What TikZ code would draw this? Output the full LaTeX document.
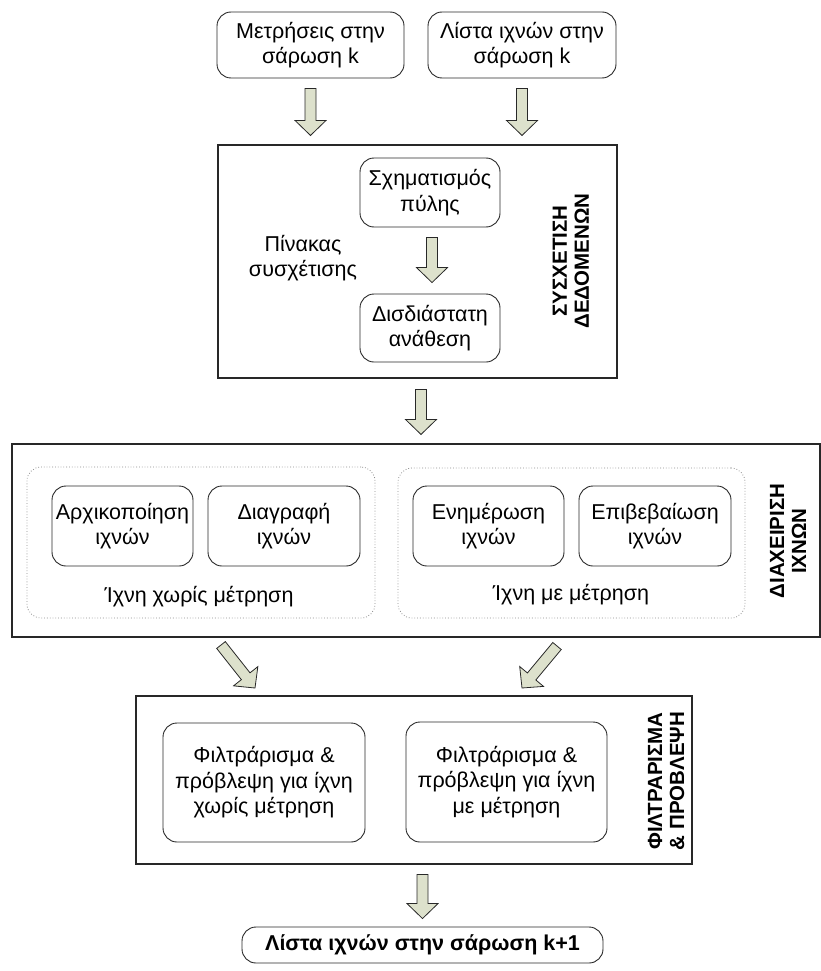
\documentclass[tikz,border=0pt]{standalone}
\usepackage{fontspec}
\setmainfont{Liberation Sans}
\usetikzlibrary{calc}

\definecolor{arrfill}{RGB}{221,225,204}
\definecolor{edgecol}{RGB}{40,40,40}
\definecolor{dotcol}{RGB}{140,140,140}

\newcommand\mainsz{\fontsize{21.5}{25.5}\selectfont}
\newcommand\titlesz{\bfseries\fontsize{20.5}{22}\selectfont}

% hollow block arrow from #1 to #2
\newcommand\blockarrow[2]{%
  \draw[blockarr] let \p1=(#1), \p2=(#2),
    \n1={atan2(\y2-\y1,\x2-\x1)}, \n2={veclen(\x2-\x1,\y2-\y1)} in
    ($(\p1)+({\n1+90}:5.5)$)
    -- ($(\p1)+(\n1:{\n2-15})+({\n1+90}:5.5)$)
    -- ($(\p1)+(\n1:{\n2-15})+({\n1+90}:15.5)$)
    -- (\p2)
    -- ($(\p1)+(\n1:{\n2-15})+({\n1-90}:15.5)$)
    -- ($(\p1)+(\n1:{\n2-15})+({\n1-90}:5.5)$)
    -- ($(\p1)+({\n1-90}:5.5)$) -- cycle;}

\tikzset{
  stage/.style={draw=edgecol, line width=1.1pt, rectangle, inner sep=0pt},
  proc/.style={draw=edgecol, line width=0.9pt, rounded corners=14pt,
    align=center, inner sep=0pt, font=\mainsz},
  group/.style={draw=dotcol, dotted, line width=0.8pt, rounded corners=14pt, inner sep=0pt},
  caption/.style={align=center, font=\mainsz, inner sep=0pt},
  vtitle/.style={rotate=90, align=center, font=\titlesz, inner sep=0pt},
  blockarr/.style={draw=edgecol, fill=arrfill, line width=0.8pt, line join=miter},
}

\begin{document}
\begin{tikzpicture}[x=1pt,y=1pt]
\useasboundingbox (0,0) rectangle (821,-971);

% inputs
\node[proc, minimum width=187pt, minimum height=66pt] (meas) at (310.5,-45)
  {Μετρήσεις στην\\σάρωση k};
\node[proc, minimum width=188pt, minimum height=66pt] (tracks) at (522,-45)
  {Λίστα ιχνών στην\\σάρωση k};

% data association stage
\node[stage, minimum width=399pt, minimum height=233pt] (assoc) at (417.5,-261.5) {};
\node[proc, minimum width=140pt, minimum height=69pt] (gate) at (430,-192.5)
  {Σχηματισμός\\πύλης};
\node[proc, minimum width=140pt, minimum height=68pt] (assign) at (430,-328)
  {Δισδιάστατη\\ανάθεση};
\node[caption] (matrix) at (303,-258) {Πίνακας\\συσχέτισης};
\node[vtitle] (assoctitle) at (571,-261) {ΣΥΣΧΕΤΙΣΗ\\ΔΕΔΟΜΕΝΩΝ};

% track management stage
\node[stage, minimum width=808pt, minimum height=193pt] (manage) at (416,-540.5) {};
\node[group, minimum width=348pt, minimum height=151pt] (nomeas) at (201,-542.5) {};
\node[group, minimum width=347pt, minimum height=150pt] (withmeas) at (571.5,-543) {};
\node[proc, minimum width=141pt, minimum height=80pt] (init) at (122.5,-526)
  {Αρχικοποίηση\\ιχνών};
\node[proc, minimum width=152pt, minimum height=80pt] (del) at (284,-526)
  {Διαγραφή\\ιχνών};
\node[proc, minimum width=151pt, minimum height=80pt] (upd) at (488.5,-526)
  {Ενημέρωση\\ιχνών};
\node[proc, minimum width=152pt, minimum height=80pt] (conf) at (655,-526)
  {Επιβεβαίωση\\ιχνών};
\node[caption] (nomeaslbl) at (199,-597) {Ίχνη χωρίς μέτρηση};
\node[caption] (withmeaslbl) at (571,-595) {Ίχνη με μέτρηση};
\node[vtitle] (managetitle) at (788,-541) {ΔΙΑΧΕΙΡΙΣΗ\\ΙΧΝΩΝ};

% filtering and prediction stage
\node[stage, minimum width=556pt, minimum height=168pt] (filt) at (414,-780) {};
\node[proc, minimum width=202pt, minimum height=119pt] (filtA) at (264,-782.5)
  {Φιλτράρισμα \&\\πρόβλεψη για ίχνη\\χωρίς μέτρηση};
\node[proc, minimum width=201pt, minimum height=120pt] (filtB) at (506.5,-782)
  {Φιλτράρισμα \&\\πρόβλεψη για ίχνη\\με μέτρηση};
\node[vtitle] (filttitle) at (666,-781) {ΦΙΛΤΡΑΡΙΣΜΑ\\\& ΠΡΟΒΛΕΨΗ};

% output
\node[proc, minimum width=361pt, minimum height=36pt, font=\mainsz\bfseries] (out) at (422.5,-945)
  {Λίστα ιχνών στην σάρωση k+1};

% block arrows
\blockarrow{$(meas.south)+(0,-10)$}{$(meas.south |- assoc.north)+(0,9)$}
\blockarrow{$(tracks.south)+(0,-10)$}{$(tracks.south |- assoc.north)+(0,9)$}
\blockarrow{$(gate.south)+(2,-10)$}{$(assign.north)+(2,11)$}
\blockarrow{$(assoc.south)+(3.5,-11)$}{$(manage.north)+(5,9)$}
\coordinate (dls) at (221,-645);
\coordinate (dle) at (255,-688);
\coordinate (drs) at (557,-646);
\coordinate (dre) at (522,-688);
\blockarrow{dls}{dle}
\blockarrow{drs}{dre}
\blockarrow{$(filt.south -| out.north)+(0,-10)$}{$(out.north)+(0,8)$}
\end{tikzpicture}
\end{document}
